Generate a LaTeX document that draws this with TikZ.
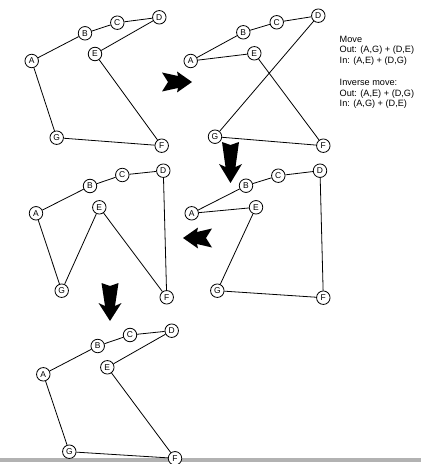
\documentclass[tikz,border=0pt]{standalone}
\usepackage{fontspec}
\setmainfont{Liberation Sans}
\begin{document}
\begin{tikzpicture}[x=1bp,y=-1bp,
  vtx/.style={circle,draw,fill=white,line width=0.8bp,minimum size=13.5bp,inner sep=0pt,font=\fontsize{8.5}{8.5}\selectfont},
  edge/.style={line width=0.8bp},
  fat/.style={fill=black,draw=none},
  info/.style={align=left,inner sep=0pt,anchor=north west,font=\fontsize{9.2}{10.3}\selectfont}]
\useasboundingbox (0,0) rectangle (421,464);
\fill[gray!60] (0,458) rectangle (421,461.7);
% graph 1
\node[vtx] (a1) at (31.7,61) {A};
\node[vtx] (b1) at (85,33.3) {B};
\node[vtx] (c1) at (117.3,22.7) {C};
\node[vtx] (d1) at (159.3,17.3) {D};
\node[vtx] (e1) at (95,54) {E};
\node[vtx] (f1) at (161.7,145.7) {F};
\node[vtx] (g1) at (56.7,137.7) {G};
\draw[edge] (a1)--(b1) (b1)--(c1) (c1)--(d1) (d1)--(e1) (e1)--(f1) (f1)--(g1) (g1)--(a1);
% graph 2
\node[vtx] (a2) at (190.7,61) {A};
\node[vtx] (b2) at (243.3,32.3) {B};
\node[vtx] (c2) at (276.7,22.3) {C};
\node[vtx] (d2) at (318.3,15.7) {D};
\node[vtx] (e2) at (254.3,53.3) {E};
\node[vtx] (f2) at (323.3,145.7) {F};
\node[vtx] (g2) at (215,136.7) {G};
\draw[edge] (a2)--(b2) (b2)--(c2) (c2)--(d2) (d2)--(g2) (a2)--(e2) (e2)--(f2) (f2)--(g2);
% graph 3
\node[vtx] (a3) at (191.7,213.3) {A};
\node[vtx] (b3) at (246,185.7) {B};
\node[vtx] (c3) at (278.3,175.7) {C};
\node[vtx] (d3) at (320,170.7) {D};
\node[vtx] (e3) at (256,207.3) {E};
\node[vtx] (f3) at (323.3,297.7) {F};
\node[vtx] (g3) at (217.3,290.7) {G};
\draw[edge] (a3)--(b3) (b3)--(c3) (c3)--(d3) (d3)--(f3) (a3)--(e3) (e3)--(g3) (g3)--(f3);
% graph 4
\node[vtx] (a4) at (36,213.3) {A};
\node[vtx] (b4) at (90,186) {B};
\node[vtx] (c4) at (122.3,175) {C};
\node[vtx] (d4) at (163.3,170.7) {D};
\node[vtx] (e4) at (99.3,207.3) {E};
\node[vtx] (f4) at (166.7,297.3) {F};
\node[vtx] (g4) at (61.7,290.7) {G};
\draw[edge] (a4)--(b4) (b4)--(c4) (c4)--(d4) (d4)--(f4) (a4)--(g4) (g4)--(e4) (e4)--(f4);
% graph 5
\node[vtx] (a5) at (43.3,374.3) {A};
\node[vtx] (b5) at (97.7,346) {B};
\node[vtx] (c5) at (130,335) {C};
\node[vtx] (d5) at (171.7,330.7) {D};
\node[vtx] (e5) at (107.3,367.3) {E};
\node[vtx] (f5) at (175,458.3) {F};
\node[vtx] (g5) at (69.3,451.7) {G};
\draw[edge] (a5)--(b5) (b5)--(c5) (c5)--(d5) (d5)--(e5) (e5)--(f5) (f5)--(g5) (g5)--(a5);
% big arrows
\begin{scope}[shift={(162,82)}]
\fill[fat] (0,-9.5)--(6,0)--(0,9.5)--(16,6)--(15,10.5)--(30,0)--(15,-10.5)--(16,-6)--cycle;
\end{scope}
\begin{scope}[shift={(230.5,142)}]
\fill[fat] (-8.5,0)--(0,3)--(8.5,0)--(5,25)--(11.5,22)--(0,41)--(-11.5,22)--(-5,25)--cycle;
\end{scope}
\begin{scope}[shift={(212,238)}]
\fill[fat] (0,-9.5)--(-6,0)--(0,9.5)--(-15,6)--(-14,10.5)--(-29,0)--(-14,-10.5)--(-15,-6)--cycle;
\end{scope}
\begin{scope}[shift={(110,283)}]
\fill[fat] (-8.5,0)--(0,3)--(8.5,0)--(5,23)--(11.5,20)--(0,38)--(-11.5,20)--(-5,23)--cycle;
\end{scope}
% texts
\node[info] (mv) at (339.5,36.2) {Move\\Out: (A,G) + (D,E)\\In: (A,E) + (D,G)};
\node[info] (inv) at (339.5,79.4) {Inverse move:\\Out: (A,E) + (D,G)\\In: (A,G) + (D,E)};
\end{tikzpicture}
\end{document}
